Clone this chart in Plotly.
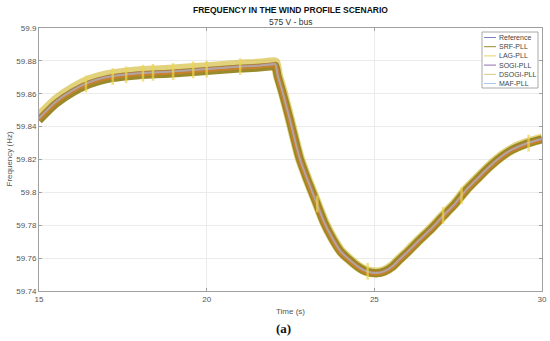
import plotly.graph_objects as go

# ---- data ----
t = [15, 15.5, 16, 16.5, 17, 17.5, 18, 18.5, 19, 20,
     21, 21.5, 22, 22.05, 22.12, 22.25, 22.47, 22.77, 23.0, 23.27,
     23.5, 23.75, 24.0, 24.26, 24.5, 24.76, 25.06, 25.3, 25.54, 25.74,
     26.0, 26.34, 26.7, 27.02, 27.4, 27.74, 28.1, 28.42, 28.8, 29.1,
     29.5, 29.9, 30]

reference = [59.845, 59.855, 59.862, 59.867, 59.870, 59.8715, 59.8725, 59.873, 59.8735, 59.875,
             59.8765, 59.877, 59.878, 59.878, 59.871, 59.862, 59.845, 59.821, 59.808, 59.794,
             59.782, 59.772, 59.764, 59.759, 59.755, 59.752, 59.751, 59.752, 59.755, 59.759,
             59.764, 59.771, 59.778, 59.785, 59.793, 59.8015, 59.809, 59.8155, 59.822, 59.826,
             59.8295, 59.832, 59.8325]

srf_pll = [59.8438, 59.8538, 59.8608, 59.8658, 59.8688, 59.8703, 59.8713, 59.8718, 59.8723, 59.8738,
           59.8753, 59.8758, 59.8768, 59.8770, 59.8705, 59.8615, 59.8448, 59.8208, 59.8078, 59.7938,
           59.7818, 59.7718, 59.7638, 59.7588, 59.7548, 59.7518, 59.7508, 59.7518, 59.7548, 59.7588,
           59.7638, 59.7708, 59.7778, 59.7848, 59.7928, 59.8013, 59.8088, 59.8153, 59.8218, 59.8258,
           59.8293, 59.8318, 59.8323]

lag_pll = [59.8462, 59.8562, 59.8632, 59.8682, 59.8712, 59.8727, 59.8737, 59.8742, 59.8747, 59.8762,
           59.8777, 59.8782, 59.8792, 59.8790, 59.8715, 59.8625, 59.8452, 59.8212, 59.8082, 59.7942,
           59.7822, 59.7722, 59.7642, 59.7592, 59.7552, 59.7522, 59.7512, 59.7522, 59.7552, 59.7592,
           59.7642, 59.7712, 59.7782, 59.7852, 59.7932, 59.8017, 59.8092, 59.8157, 59.8222, 59.8262,
           59.8297, 59.8322, 59.8327]

sogi_pll = [59.8453, 59.8552, 59.8622, 59.8672, 59.8702, 59.8717, 59.8727, 59.8732, 59.8737, 59.8752,
            59.8767, 59.8772, 59.8782, 59.8781, 59.8711, 59.8621, 59.8451, 59.8211, 59.8081, 59.7941,
            59.7821, 59.7721, 59.7641, 59.7591, 59.7551, 59.7521, 59.7511, 59.7521, 59.7551, 59.7591,
            59.7641, 59.7711, 59.7781, 59.7851, 59.7931, 59.8016, 59.8091, 59.8156, 59.8221, 59.8261,
            59.8296, 59.8321, 59.8326]

dsogi_pll = [59.8446, 59.8546, 59.8616, 59.8666, 59.8696, 59.8711, 59.8721, 59.8726, 59.8731, 59.8746,
             59.8761, 59.8766, 59.8776, 59.8776, 59.8706, 59.8616, 59.8446, 59.8206, 59.8076, 59.7936,
             59.7816, 59.7716, 59.7636, 59.7586, 59.7546, 59.7516, 59.7506, 59.7516, 59.7546, 59.7586,
             59.7636, 59.7706, 59.7776, 59.7846, 59.7926, 59.8011, 59.8086, 59.8151, 59.8216, 59.8256,
             59.8291, 59.8316, 59.8321]

maf_pll = [59.8450, 59.8550, 59.8620, 59.8670, 59.8700, 59.8715, 59.8725, 59.8730, 59.8735, 59.8750,
           59.8765, 59.8770, 59.8780, 59.8780, 59.8710, 59.8620, 59.8450, 59.8210, 59.8080, 59.7940,
           59.7820, 59.7720, 59.7640, 59.7590, 59.7550, 59.7520, 59.7510, 59.7520, 59.7550, 59.7590,
           59.7640, 59.7710, 59.7780, 59.7850, 59.7930, 59.8015, 59.8090, 59.8155, 59.8220, 59.8260,
           59.8295, 59.8320, 59.8325]

# transient oscillation bursts (LAG-PLL)
spike_t = [16.4, 17.2, 17.6, 18.1, 18.4, 19.0, 19.6, 20.0, 21.0, 23.3, 24.8, 27.05, 27.6, 29.6]
spike_f = [59.866, 59.8705, 59.8715, 59.8725, 59.873, 59.8735, 59.8745, 59.875, 59.8765,
           59.793, 59.752, 59.786, 59.798, 59.830]

x_ticks = [15, 20, 25, 30]
y_ticks = [59.74, 59.76, 59.78, 59.8, 59.82, 59.84, 59.86, 59.88, 59.9]
y_tick_labels = ["59.74", "59.76", "59.78", "59.8", "59.82", "59.84", "59.86", "59.88", "59.9"]

names = ["Reference", "SRF-PLL", "LAG-PLL", "SOGI-PLL", "DSOGI-PLL", "MAF-PLL"]
legend_colors = ["#7f7fc4", "#9a8a2a", "#e8d26a", "#8e6fae", "#d8c68a", "#a8c8ec"]

FONT = "Liberation Sans, Arial, sans-serif"
W, H = 550, 341
ML, MR, MT, MB = 39, 8, 28, 50
PW, PH = W - ML - MR, H - MT - MB


def px_x(px):
    return (px - ML) / PW


def px_y(py):
    return (H - MB - py) / PH


fig = go.Figure()

# drawing layers (bottom -> top)
layers = [
    (lag_pll, "rgba(205,180,35,0.6)", 10),
    (srf_pll, "rgba(148,132,32,0.95)", 8),
    (dsogi_pll, "rgba(212,128,48,0.8)", 4.5),
    (sogi_pll, "rgba(160,130,170,0.45)", 2.5),
    (maf_pll, "rgba(170,200,230,0.45)", 1.5),
    (reference, "rgba(178,166,162,0.95)", 1.6),
]
for vals, col, w in layers:
    fig.add_trace(go.Scatter(x=t, y=vals, mode="lines",
                             line=dict(color=col, width=w, shape="spline", smoothing=0.6),
                             showlegend=False, hoverinfo="skip"))

fig.add_trace(go.Scatter(x=spike_t, y=spike_f, mode="markers", showlegend=False,
                         marker=dict(symbol="line-ns", size=12,
                                     line=dict(color="rgba(236,212,80,0.7)", width=2.5)),
                         hoverinfo="skip"))

# custom compact legend (MATLAB style)
shapes = [dict(type="rect", xref="paper", yref="paper",
               x0=px_x(482), x1=px_x(538), y0=px_y(88), y1=px_y(32),
               line=dict(color="#a8a8a8", width=1), fillcolor="white", layer="above")]
annotations = []
for i, (nm, col) in enumerate(zip(names, legend_colors)):
    py = 37.5 + i * 9.2
    shapes.append(dict(type="line", xref="paper", yref="paper",
                       x0=px_x(484), x1=px_x(496), y0=px_y(py), y1=px_y(py),
                       line=dict(color=col, width=1), layer="above"))
    annotations.append(dict(text=nm, x=px_x(497), y=px_y(py), xref="paper", yref="paper",
                            showarrow=False, xanchor="left", yanchor="middle",
                            font=dict(size=7, color="#444444", family=FONT)))

annotations += [
    dict(text="<b>FREQUENCY IN THE WIND PROFILE SCENARIO</b>", x=0.5, y=px_y(10),
         xref="paper", yref="paper", showarrow=False, xanchor="center", yanchor="middle",
         font=dict(size=8.5, color="#111111", family=FONT)),
    dict(text="575 V - bus", x=0.5, y=px_y(22),
         xref="paper", yref="paper", showarrow=False, xanchor="center", yanchor="middle",
         font=dict(size=8.5, color="#333333", family=FONT)),
    dict(text="Time (s)", x=0.5, y=px_y(311),
         xref="paper", yref="paper", showarrow=False, xanchor="center", yanchor="middle",
         font=dict(size=8, color="#555555", family=FONT)),
    dict(text="Frequency (Hz)", x=px_x(9), y=0.5, textangle=-90,
         xref="paper", yref="paper", showarrow=False, xanchor="center", yanchor="middle",
         font=dict(size=8, color="#555555", family=FONT)),
    dict(text="<b>(a)</b>", x=px_x(283), y=px_y(328),
         xref="paper", yref="paper", showarrow=False, xanchor="center", yanchor="middle",
         font=dict(size=13, color="#111111", family="Liberation Serif, Times New Roman, serif")),
]

fig.update_layout(
    width=W, height=H,
    margin=dict(l=ML, r=MR, t=MT, b=MB),
    paper_bgcolor="white", plot_bgcolor="white",
    font=dict(family=FONT, size=8, color="#555555"),
    showlegend=False,
    xaxis=dict(range=[15, 30], tickvals=x_ticks, showgrid=True, gridcolor="#ebebeb",
               zeroline=False, showline=True, linecolor="#a0a0a0", mirror="ticks",
               ticks="inside", ticklen=3, tickcolor="#a0a0a0", automargin=False,
               tickfont=dict(size=8, color="#555555")),
    yaxis=dict(range=[59.74, 59.9], tickvals=y_ticks, ticktext=y_tick_labels,
               showgrid=True, gridcolor="#ebebeb",
               zeroline=False, showline=True, linecolor="#a0a0a0", mirror="ticks",
               ticks="inside", ticklen=3, tickcolor="#a0a0a0", automargin=False,
               tickfont=dict(size=8, color="#555555")),
    shapes=shapes,
    annotations=annotations,
)

fig.write_html("out.html", config={"displayModeBar": False},
               post_script="document.body.style.margin='0';")
